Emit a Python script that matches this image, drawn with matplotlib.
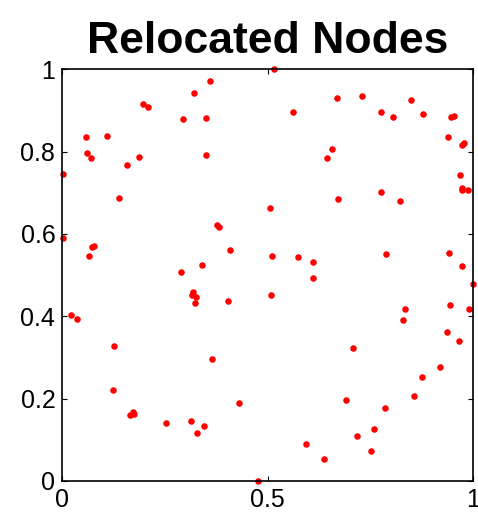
import matplotlib
matplotlib.use("Agg")
import matplotlib.pyplot as plt

plt.rcParams['font.family'] = ['Liberation Sans', 'DejaVu Sans']

# Node positions after relocation (unit square)
node_x = [0.360, 0.320, 0.196, 0.208, 0.293, 0.350, 0.058, 0.108, 0.061, 0.070,
          0.186, 0.158, 0.350, 0.001, 0.138, 0.376, 0.381, 0.001, 0.072, 0.078,
          0.066, 0.409, 0.288, 0.341,
          0.516, 0.669, 0.730, 0.562, 0.776, 0.806, 0.848, 0.878, 0.947, 0.953,
          0.938, 0.973, 0.977, 0.657, 0.645, 0.967, 0.973, 0.973, 0.987, 0.776,
          0.822, 0.672, 0.505, 0.511, 0.574, 0.609, 0.788, 0.942, 0.973,
          0.315, 0.319, 0.326, 0.323, 0.404, 0.022, 0.036, 0.126, 0.364, 0.123,
          0.430, 0.164, 0.171, 0.174, 0.252, 0.313, 0.345, 0.327, 0.477,
          0.509, 0.610, 1.000, 0.943, 0.989, 0.834, 0.828, 0.936, 0.966, 0.707,
          0.918, 0.875, 0.855, 0.690, 0.786, 0.758, 0.716, 0.751, 0.594, 0.638]
node_y = [0.971, 0.942, 0.916, 0.909, 0.879, 0.882, 0.835, 0.837, 0.796, 0.784,
          0.788, 0.768, 0.792, 0.746, 0.687, 0.622, 0.617, 0.589, 0.568, 0.570,
          0.546, 0.561, 0.508, 0.524,
          1.000, 0.930, 0.935, 0.897, 0.896, 0.883, 0.926, 0.891, 0.883, 0.886,
          0.835, 0.815, 0.822, 0.807, 0.784, 0.744, 0.712, 0.707, 0.707, 0.701,
          0.681, 0.685, 0.664, 0.547, 0.545, 0.531, 0.552, 0.553, 0.523,
          0.452, 0.458, 0.446, 0.431, 0.438, 0.402, 0.392, 0.328, 0.297, 0.221,
          0.190, 0.160, 0.168, 0.162, 0.140, 0.146, 0.132, 0.115, 0.000,
          0.451, 0.492, 0.478, 0.426, 0.417, 0.417, 0.391, 0.362, 0.340, 0.323,
          0.276, 0.252, 0.207, 0.197, 0.176, 0.127, 0.108, 0.073, 0.089, 0.053]

x_ticks = [0, 0.5, 1]
x_labels = ['0', '0.5', '1']
y_ticks = [0, 0.2, 0.4, 0.6, 0.8, 1]
y_labels = ['0', '0.2', '0.4', '0.6', '0.8', '1']

fig = plt.figure(figsize=(4.78, 5.17), dpi=100)
ax = fig.add_axes([0.1303, 0.070, 0.8597, 0.796])

ax.plot(node_x, node_y, 'o', color='red', markersize=4.7,
        markeredgewidth=0, clip_on=False)

ax.set_xlim(0, 1)
ax.set_ylim(0, 1)
ax.set_xticks(x_ticks)
ax.set_xticklabels(x_labels)
ax.set_yticks(y_ticks)
ax.set_yticklabels(y_labels)
ax.tick_params(direction='in', length=3.5, width=0.8, labelsize=18,
               top=True, right=True, pad=5)
for s in ax.spines.values():
    s.set_linewidth(1.2)

ax.set_title('Relocated Nodes', fontsize=32, fontweight='bold', pad=12)

fig.savefig('out.png', dpi=100)
